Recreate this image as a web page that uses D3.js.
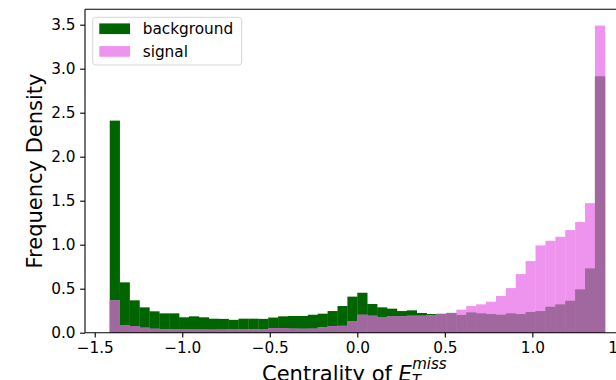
<!DOCTYPE html>
<html>
<head>
<meta charset="utf-8">
<script src="https://cdn.jsdelivr.net/npm/d3@7"></script>
<style>
  html, body { margin: 0; padding: 0; background: #fff; }
  svg { display: block; font-family: "DejaVu Sans", sans-serif; }
</style>
</head>
<body>
<svg id="chart" width="616" height="380"></svg>
<script>
// Histogram densities, 50 equal bins over [-sqrt(2), sqrt(2)]
const binCount = 50;
const binRange = [-Math.SQRT2, Math.SQRT2];

const backgroundDensity = [
  2.41, 0.572, 0.368, 0.288, 0.243, 0.220, 0.220, 0.175, 0.186, 0.175,
  0.159, 0.157, 0.146, 0.159, 0.159, 0.157, 0.172, 0.186, 0.190, 0.190,
  0.204, 0.216, 0.246, 0.303, 0.410, 0.454, 0.326, 0.288, 0.273, 0.246,
  0.254, 0.224, 0.212, 0.215, 0.225, 0.202, 0.231, 0.220, 0.212, 0.204,
  0.220, 0.212, 0.235, 0.246, 0.295, 0.322, 0.363, 0.492, 0.731, 2.914
];

const signalDensity = [
  0.368, 0.087, 0.076, 0.057, 0.045, 0.040, 0.038, 0.037, 0.036, 0.036,
  0.035, 0.036, 0.037, 0.038, 0.039, 0.040, 0.052, 0.053, 0.046, 0.045,
  0.046, 0.061, 0.074, 0.078, 0.130, 0.204, 0.193, 0.178, 0.186, 0.186,
  0.193, 0.193, 0.197, 0.212, 0.220, 0.262, 0.303, 0.322, 0.352, 0.417,
  0.507, 0.666, 0.814, 0.992, 1.044, 1.090, 1.166, 1.257, 1.472, 3.49
];

const xTicks = [-1.5, -1.0, -0.5, 0.0, 0.5, 1.0, 1.5];
const yTicks = [0.0, 0.5, 1.0, 1.5, 2.0, 2.5, 3.0, 3.5];
const seriesNames = ["background", "signal"];

const colors = {
  background: "#006400",
  signal: "#ee94ee",
  overlap: "#a1679f"
};

const svg = d3.select("#chart");
const plot = { left: 85, right: 629.6, top: 9.3, bottom: 332.7 };

const x = d3.scaleLinear().domain([-1.5556, 1.5556]).range([plot.left, plot.right]);
const y = d3.scaleLinear().domain([0, 3.675]).range([plot.bottom, plot.top]);

const step = (binRange[1] - binRange[0]) / binCount;
const bins = d3.range(binCount).map(i => ({
  x0: binRange[0] + i * step,
  x1: binRange[0] + (i + 1) * step,
  bg: backgroundDensity[i],
  sig: signalDensity[i]
}));

const bars = svg.append("g");

function drawLayer(valueOf, fill) {
  bars.append("g").selectAll("rect")
    .data(bins)
    .join("rect")
    .attr("x", d => x(d.x0))
    .attr("width", d => x(d.x1) - x(d.x0) + 0.3)
    .attr("y", d => y(valueOf(d)))
    .attr("height", d => y(0) - y(valueOf(d)))
    .attr("fill", fill);
}

// background bars, then signal, then the shared part of both
drawLayer(d => d.bg, colors.background);
drawLayer(d => d.sig, colors.signal);
drawLayer(d => Math.min(d.bg, d.sig), colors.overlap);

// Axes
const fmt = d3.format(".1f");
const xAxis = svg.append("g")
  .attr("transform", `translate(0,${plot.bottom})`)
  .call(d3.axisBottom(x).tickValues(xTicks).tickFormat(fmt).tickSize(4.9).tickPadding(4.6));
const yAxis = svg.append("g")
  .attr("transform", `translate(${plot.left},0)`)
  .call(d3.axisLeft(y).tickValues(yTicks).tickFormat(fmt).tickSize(4.9).tickPadding(4.6));

[xAxis, yAxis].forEach(g => {
  g.select(".domain").remove();
  g.selectAll(".tick line").attr("stroke", "#000").attr("stroke-width", 1.1);
  g.selectAll(".tick text")
    .attr("fill", "#000")
    .style("font-size", "15.3px")
    .style("font-family", "DejaVu Sans");
});

// Spines
const spines = svg.append("g").attr("stroke", "#000").attr("stroke-width", 1.1).attr("fill", "none");
spines.append("line").attr("x1", plot.left).attr("x2", plot.left).attr("y1", plot.top).attr("y2", plot.bottom);
spines.append("line").attr("x1", plot.left).attr("x2", plot.right).attr("y1", plot.bottom).attr("y2", plot.bottom);
spines.append("line").attr("x1", plot.left).attr("x2", plot.right).attr("y1", plot.top).attr("y2", plot.top);
spines.append("line").attr("x1", plot.right).attr("x2", plot.right).attr("y1", plot.top).attr("y2", plot.bottom);

// Axis labels
svg.append("text")
  .attr("transform", `translate(42,${(plot.top + plot.bottom) / 2}) rotate(-90)`)
  .attr("text-anchor", "middle")
  .style("font-size", "21px")
  .attr("fill", "#000")
  .text("Frequency Density");

const xl = svg.append("text")
  .attr("x", 262)
  .attr("y", 381)
  .style("font-size", "21px")
  .attr("fill", "#000");
xl.append("tspan").text("Centrality of ");
xl.append("tspan").style("font-style", "italic").text("E");
xl.append("tspan").style("font-style", "italic").style("font-size", "15px").attr("dy", 5).text("T");
xl.append("tspan").style("font-style", "italic").style("font-size", "15px")
  .attr("dx", -8.8).attr("dy", -17).text("miss");

// Legend
const legend = svg.append("g");
legend.append("rect")
  .attr("x", 92.7).attr("y", 17.3)
  .attr("width", 149).attr("height", 47.7)
  .attr("rx", 3).attr("ry", 3)
  .attr("fill", "#fff").attr("fill-opacity", 0.8)
  .attr("stroke", "#d6d6d6").attr("stroke-width", 1);

const legendColors = [colors.background, colors.signal];
seriesNames.forEach((name, i) => {
  const cy = 28.7 + i * 22.7;
  legend.append("rect")
    .attr("x", 99.3).attr("y", cy - 5.3)
    .attr("width", 30.7).attr("height", 10.7)
    .attr("fill", legendColors[i]);
  legend.append("text")
    .attr("x", 142.7).attr("y", cy)
    .attr("dy", "0.35em")
    .style("font-size", "15.3px")
    .attr("fill", "#000")
    .text(name);
});
</script>
</body>
</html>
